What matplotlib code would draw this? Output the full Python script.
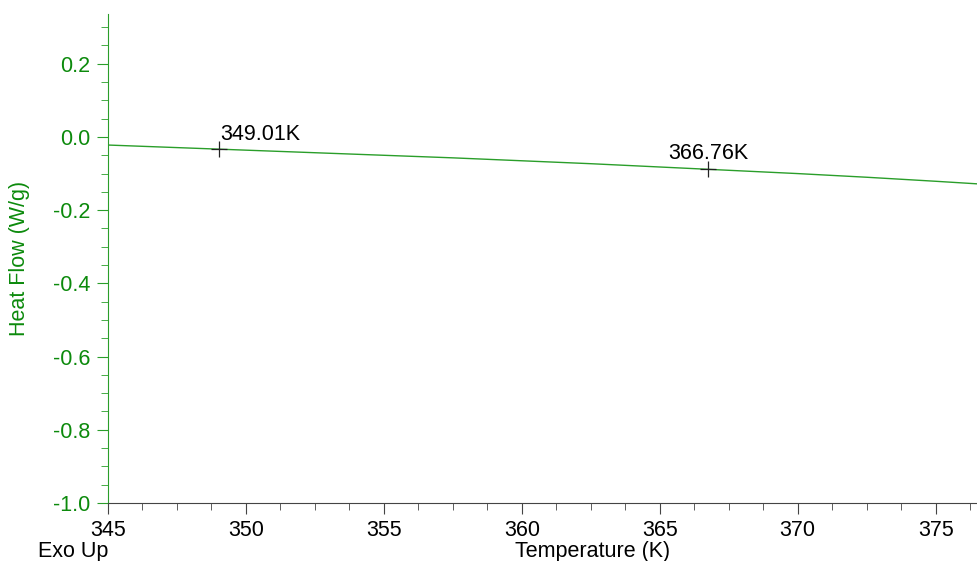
import matplotlib
matplotlib.use('Agg')
import matplotlib.pyplot as plt
import numpy as np
from matplotlib.ticker import MultipleLocator

plt.rcParams['font.family'] = ['Liberation Sans', 'DejaVu Sans']

# heat flow curve
temp = [345.0, 347.5, 350.0, 352.5, 355.0, 357.5, 360.0, 362.5, 365.0,
        367.5, 370.0, 372.5, 375.0, 376.5]
heat = [-0.022, -0.029, -0.036, -0.043, -0.050, -0.057, -0.065, -0.073, -0.082,
        -0.091, -0.100, -0.110, -0.121, -0.128]

marks_t = [349.01, 366.76]
marks_lbl = ['349.01K', '366.76K']

green_txt = '#0c8a0c'
green_line = '#2a9e2a'
fs = 15.5

fig = plt.figure(figsize=(9.77, 5.61), dpi=100)
ax = fig.add_axes([108/977, 58/561, 869/977, 489/561])

ax.plot(temp, heat, color=green_line, lw=1.0)

marks_h = np.interp(marks_t, temp, heat)
ax.plot(marks_t, marks_h, ls='none', marker='+', ms=12, mew=0.9, color='#222222')
ax.annotate(marks_lbl[0], (marks_t[0], marks_h[0]), xytext=(1, 3),
            textcoords='offset points', ha='left', va='bottom', fontsize=fs)
ax.annotate(marks_lbl[1], (marks_t[1], marks_h[1]), xytext=(0, 4),
            textcoords='offset points', ha='center', va='bottom', fontsize=fs)

ax.set_xlim(345, 376.5)
ax.set_ylim(-1.0, 0.336)
ax.xaxis.set_major_locator(MultipleLocator(5))
ax.xaxis.set_minor_locator(MultipleLocator(1.25))
ax.yaxis.set_major_locator(MultipleLocator(0.2))
ax.yaxis.set_minor_locator(MultipleLocator(0.05))
ax.yaxis.set_major_formatter(matplotlib.ticker.FormatStrFormatter('%.1f'))

for s in ['top', 'right']:
    ax.spines[s].set_visible(False)
ax.spines['left'].set_color(green_line)
ax.spines['bottom'].set_color('#444444')

ax.tick_params(axis='x', which='major', length=8, color='#444444', labelsize=fs,
               labelcolor='black', pad=4)
ax.tick_params(axis='x', which='minor', length=5, color='#444444')
ax.tick_params(axis='y', which='major', length=8, color=green_line, labelsize=fs,
               labelcolor=green_txt, pad=5)
ax.tick_params(axis='y', which='minor', length=5, color=green_line)

fig.text(20/977, 1 - 258/561, 'Heat Flow (W/g)', rotation=90, color=green_txt,
         fontsize=fs, ha='center', va='center')
fig.text(38/977, 1 - 551/561, 'Exo Up', fontsize=fs, ha='left', va='center')
fig.text(593/977, 1 - 551/561, 'Temperature (K)', fontsize=fs, ha='center', va='center')

fig.savefig('out.png', dpi=100)
